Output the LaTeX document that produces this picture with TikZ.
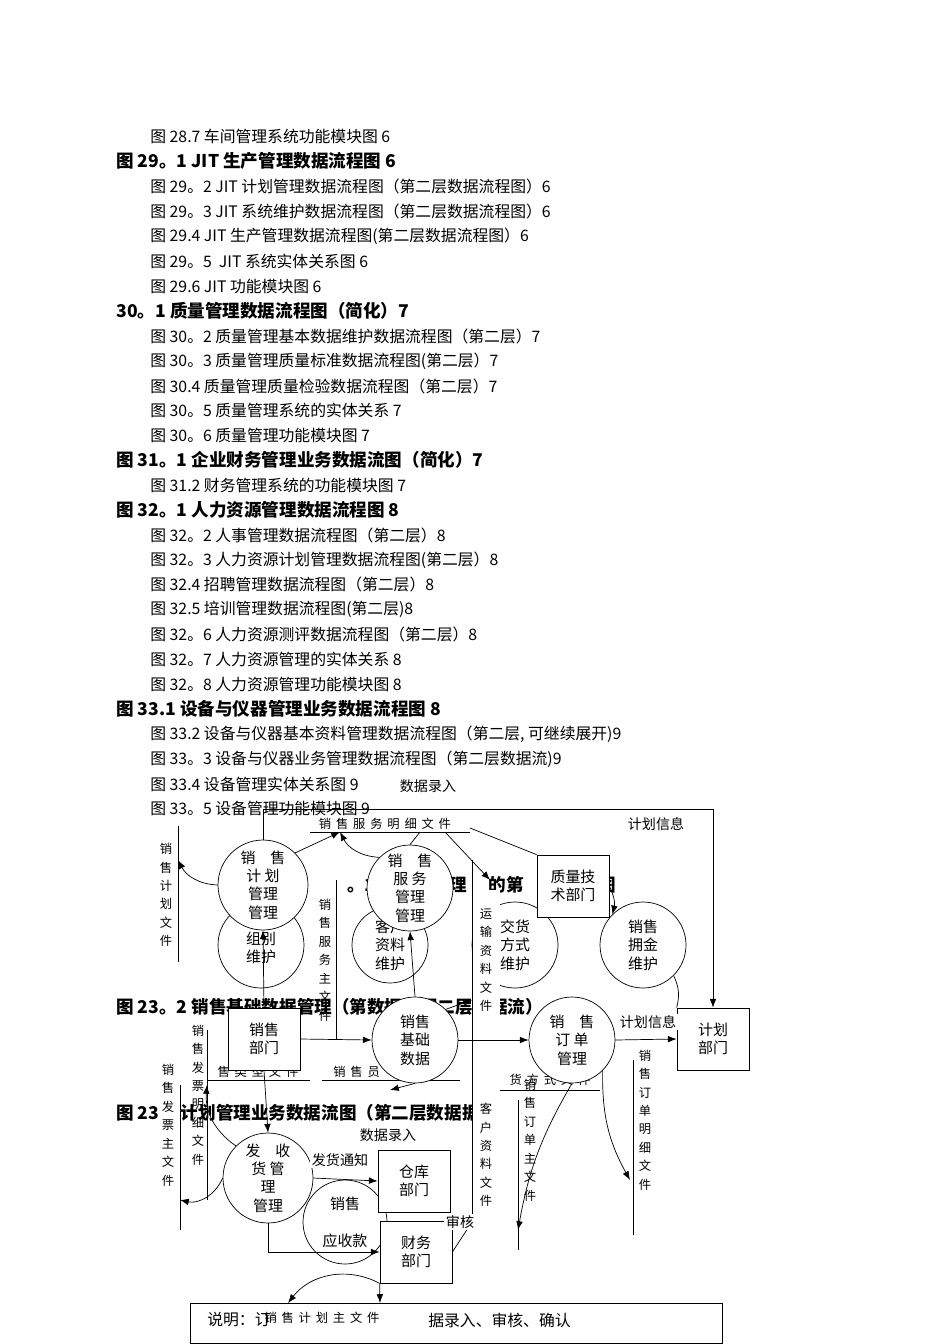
\documentclass[tikz,border=0pt]{standalone}
\usepackage{fontspec}
\setmainfont{Liberation Serif}
\newfontfamily\cjk{Noto Sans CJK SC}
\usetikzlibrary{arrows.meta}
\tikzset{
    item/.style={anchor=west, inner sep=0pt, font=\cjk\fontsize{9pt}{10pt}\selectfont},
    head/.style={item, font=\cjk\bfseries\fontsize{10pt}{11pt}\selectfont},
    proc/.style={draw, circle, fill=white, minimum size=1.72cm, inner sep=0pt, align=center, font=\cjk\fontsize{8.5pt}{10.5pt}\selectfont},
    dept/.style={draw, fill=white, minimum width=1.44cm, minimum height=1.24cm, inner sep=0pt, align=center, font=\cjk\fontsize{8.5pt}{10.5pt}\selectfont},
    store/.style={inner sep=1pt, font=\cjk\fontsize{7pt}{8pt}\selectfont},
    vstore/.style={inner sep=1pt, align=center, font=\cjk\fontsize{7pt}{10.5pt}\selectfont},
    lbl/.style={inner sep=1pt, fill=white, font=\cjk\fontsize{8pt}{9pt}\selectfont},
    flow/.style={-{Latex[length=5pt]}, thin}
}
\begin{document}
\begin{tikzpicture}[x=0.02cm, y=-0.02cm]
    \useasboundingbox (0,0) rectangle (950,1344);

    % the list
    \node[item] (l1) at (150,136) {图 28.7 车间管理系统功能模块图 6};
    \node[head] (l2) at (116,161) {图 29。1 JIT 生产管理数据流程图 6};
    \node[item] (l3) at (150,186) {图 29。2 JIT 计划管理数据流程图（第二层数据流程图）6};
    \node[item] (l4) at (150,211) {图 29。3 JIT 系统维护数据流程图（第二层数据流程图）6};
    \node[item] (l5) at (150,236) {图 29.4 JIT 生产管理数据流程图(第二层数据流程图）6};
    \node[item] (l6) at (150,261) {图 29。5 \ JIT 系统实体关系图 6};
    \node[item] (l7) at (150,286) {图 29.6 JIT 功能模块图 6};
    \node[head] (l8) at (116,311) {30。1 质量管理数据流程图（简化）7};
    \node[item] (l9) at (150,336) {图 30。2 质量管理基本数据维护数据流程图（第二层）7};
    \node[item] (l10) at (150,361) {图 30。3 质量管理质量标准数据流程图(第二层）7};
    \node[item] (l11) at (150,386) {图 30.4 质量管理质量检验数据流程图（第二层）7};
    \node[item] (l12) at (150,410) {图 30。5 质量管理系统的实体关系 7};
    \node[item] (l13) at (150,435) {图 30。6 质量管理功能模块图 7};
    \node[head] (l14) at (116,460) {图 31。1 企业财务管理业务数据流图（简化）7};
    \node[item] (l15) at (150,485) {图 31.2 财务管理系统的功能模块图 7};
    \node[head] (l16) at (116,510) {图 32。1 人力资源管理数据流程图 8};
    \node[item] (l17) at (150,535) {图 32。2 人事管理数据流程图（第二层）8};
    \node[item] (l18) at (150,560) {图 32。3 人力资源计划管理数据流程图(第二层）8};
    \node[item] (l19) at (150,584) {图 32.4 招聘管理数据流程图（第二层）8};
    \node[item] (l20) at (150,609) {图 32.5 培训管理数据流程图(第二层)8};
    \node[item] (l21) at (150,634) {图 32。6 人力资源测评数据流程图（第二层）8};
    \node[item] (l22) at (150,659) {图 32。7 人力资源管理的实体关系 8};
    \node[item] (l23) at (150,684) {图 32。8 人力资源管理功能模块图 8};
    \node[head] (l24) at (116,709) {图 33.1 设备与仪器管理业务数据流程图 8};
    \node[item] (l25) at (150,734) {图 33.2 设备与仪器基本资料管理数据流程图（第二层, 可继续展开)9};
    \node[item] (l26) at (150,759) {图 33。3 设备与仪器业务管理数据流程图（第二层数据流)9};
    \node[item] (l27) at (150,784) {图 33.4 设备管理实体关系图 9};
    \node[item] (l28) at (150,808) {图 33。5 设备管理功能模块图 9};
    \node[lbl] (t0) at (428,786) {数据录入};

    % headings left behind the diagram
    \node[head] (h1) at (116,1007) {图 23。2 销售基础数据管理（第数据流程二层数据流）};
    \node[head] (h2) at (116,1113) {图 23 \quad 计划管理业务数据流图（第二层数据据};
    \node[head] (h3) at (290,885) {图 \qquad 。1 \qquad\qquad 理 \quad 的第 \qquad\quad 流图};

    % data stores
    \draw (310,832) -- (470,832);
    \node[store, above] (s1) at (385,832) {销\,\ 售\,\ 服\,\ 务\,\ 明\,\ 细\,\ 文\,\ 件};
    \draw (207,1080) -- (310,1080);
    \node[store, above] (s2) at (258,1080) {售\,\ 类\,\ 型\,\ 文\,\ 件};
    \draw (322,1080) -- (460,1080);
    \node[store, above] (s3) at (385,1080) {销\,\ 售\,\ 员 \qquad 文\,\ 件};
    \draw (500,1090) -- (600,1090);
    \node[store, above] (s4) at (550,1088) {货\,\ 方\,\ 式\,\ 文\,\ 件};
    \draw (178,826) -- (178,962);
    \node[vstore] (s5) at (166,895) {销\\售\\计\\划\\文\\件};
    \draw (336,880) -- (336,1040);
    \node[vstore] (s6) at (325,960) {销\\售\\服\\务\\主\\文\\件};
    \draw (180,1085) -- (180,1230);
    \node[vstore] (s9) at (168,1125) {销\\售\\发\\票\\主\\文\\件};
    \draw (207,1030) -- (207,1200);
    \node[vstore] (s10) at (198,1095) {销\\售\\发\\票\\明\\细\\文\\件};
    \draw (518,1100) -- (518,1250);
    \node[vstore] (s11) at (530,1140) {销\\售\\订\\单\\主\\文\\件};
    \draw (633,1060) -- (633,1235);
    \node[vstore] (s12) at (645,1120) {销\\售\\订\\单\\明\\细\\文\\件};

    % processes and departments
    \node[proc] (zbwh) at (261,945) {\\组别\\维护};
    \node[proc, minimum size=1.52cm] (khzl) at (390,945) {客户\\资料\\维护};
    \node[proc] (jhfs) at (515,945) {交货\\方式\\维护};
    \node[proc] (yjwh) at (643,945) {销售\\拥金\\维护};
    \node[proc, minimum size=1.8cm] (xsjh) at (263,885) {销\quad 售\\计\ 划\\管理\\管理};
    \node[proc] (xsfw) at (410,888) {销\quad 售\\服\ 务\\管理\\管理};
    \node[dept] (zljs) at (573,886) {质量技\\术部门};
    \node[proc] (jcsj) at (415,1040) {销售\\基础\\数据};
    \node[proc] (ddgl) at (572,1040) {销\quad 售\\订\ 单\\管理};
    \node[dept] (xsbm) at (264,1039) {销售\\部门};
    \node[dept] (jhbm) at (713,1039) {计划\\部门};
    \node[proc, minimum size=1.68cm] (yszk) at (345,1222) {销售\\\\应收款};
    \node[proc, minimum size=1.8cm] (fsh) at (268,1178) {发\quad 收\\货\ 管\\理\\管理};
    \node[dept] (ckbm) at (414,1181) {仓库\\部门};
    \node[dept] (cwbm) at (416,1252) {财务\\部门};
    \draw (190,1303) rectangle (722,1343);
    \node[item] (sm) at (207,1320) {说明：订};
    \node[store] (s13) at (322,1318) {销\,\ 售\,\ 计\,\ 划\,\ 主\,\ 文\,\ 件};
    \node[item] (sm2) at (428,1320) {据录入、审核、确认};

    % the strip of the transport and client files
    \fill[white] (473,890) rectangle (500,1230);
    \draw (472,860) -- (472,1230);
    \node[vstore] (s7) at (486,960) {运\\输\\资\\料\\文\\件};
    \node[vstore] (s8) at (486,1155) {客\\户\\资\\料\\文\\件};

    % flows
    \draw[flow] (xsjh.north) -- ++(0,-30) -| (jhbm.north);
    \node[lbl] (t1) at (656,824) {计划信息};
    \draw[flow] (xsjh.west) to[bend left=30] (178,860);
    \draw[flow] (xsjh.north east) -- (340,832);
    \draw[flow] (xsfw.north west) to[bend left=30] (340,832);
    \draw (xsfw.north) -- (420,832);
    \draw (470,828) -- (zljs.north west);
    \draw[flow] (445,832) -- (490,880);
    \draw[flow] (zljs.east) to[bend left=20] (yjwh.north west);
    \draw[flow] (xsbm.north) -- (xsjh.south);
    \draw[flow] (xsbm.east) -- (jcsj.west);
    \draw[flow] (jcsj.north) -- (xsfw.south);
    \draw[flow] (jcsj.north east) -- (472,1000);
    \draw[flow] (jcsj.east) -- (ddgl.west);
    \draw[flow] (ddgl.east) -- (jhbm.west);
    \node[lbl] (t2) at (648,1022) {计划信息};
    \draw (yjwh.south east) to[bend left=20] (jhbm.north west);
    \draw[flow] (ddgl.south) to[bend right=10] (518,1230);
    \draw[flow] (ddgl.south east) to[bend right=15] (630,1180);
    \draw[flow] (xsbm.south) -- (fsh.north);
    \draw[flow] (fsh.east) -- (ckbm.west);
    \node[lbl] (t3) at (340,1160) {发货通知};
    \node[lbl] (t4) at (388,1135) {数据录入};
    \draw[flow] (fsh.south) |- (cwbm.west);
    \draw[flow] (fsh.west) to[bend left=40] (180,1200);
    \draw[flow] (fsh.north west) to[bend left=30] (207,1085);
    \draw[flow] (cwbm.south west) to[bend right=40] (288,1303);
    \draw[flow] (cwbm.south west) -- (380,1303);
    \draw[flow] (jcsj.south) -- (390,1090);
    \draw (cwbm.east) -- (470,1225);
    \node[lbl] (t5) at (460,1222) {审核};
\end{tikzpicture}
\end{document}
